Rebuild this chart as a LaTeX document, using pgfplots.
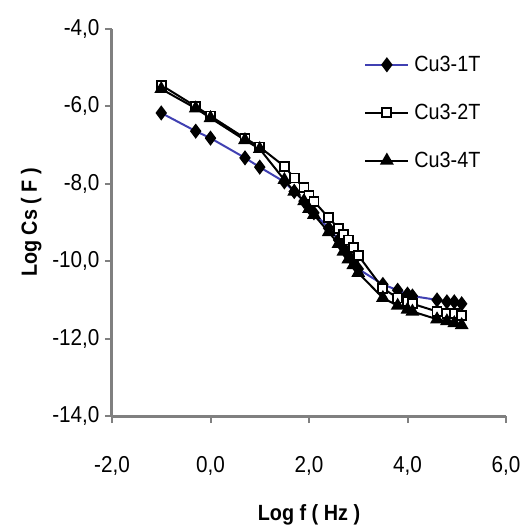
\documentclass[border=0pt]{standalone}
\usepackage{pgfplots}
\pgfplotsset{compat=1.18}
\usepackage{fontspec}
\setmainfont{Liberation Sans}[FakeStretch=0.9]
\definecolor{bl}{rgb}{0.25,0.25,0.7}
\definecolor{lbl}{rgb}{0.5,0.5,0.8}
\definecolor{ax}{rgb}{0.5,0.5,0.5}
\begin{document}
\begin{tikzpicture}
\begin{axis}[
  scale only axis, width=394pt, height=387pt,
  xmin=-2, xmax=6, ymin=-14, ymax=-4,
  xtick={-2,0,2,4,6}, ytick={-14,-12,-10,-8,-6,-4},
  axis x line=bottom, axis y line=left,
  axis line style={ax, line width=3pt, -},
  major tick style={ax, line width=2pt},
  tick align=outside, major tick length=7pt,
  every tick label/.style={font=\fontsize{23}{27}\selectfont},
  xticklabel style={yshift=-30pt},
  yticklabel style={xshift=-2pt},
  /pgf/number format/.cd, fixed, fixed zerofill, precision=1, use comma, assume math mode=true,
  /pgfplots/.cd,
  xlabel={\bfseries Log f ( Hz )}, ylabel={\bfseries Log Cs ( F )},
  label style={font=\fontsize{22}{26}\selectfont},
  xlabel style={yshift=-22pt},
  ylabel style={yshift=4pt},
  clip=false,
  legend style={draw=none, fill=none, at={(0.64,0.935)}, anchor=north west,
    font=\fontsize{22}{26}\selectfont, row sep=27pt, inner sep=0pt,
    nodes={inner xsep=5pt}},
  legend cell align=left,
  legend image code/.code={\draw[mark repeat=2,mark phase=2,#1] plot coordinates {(0pt,0pt) (21.5pt,0pt) (43pt,0pt)};},
]
\draw[ax, line width=3pt] (rel axis cs:0,0) -- (rel axis cs:1,0);
\draw[ax, line width=3pt] (rel axis cs:0,0) -- (rel axis cs:0,1);
\addplot[bl, line width=2pt, mark=diamond*, mark size=6pt, mark options={black, fill=black, solid}] coordinates {
(-1,-6.17) (-0.3,-6.64) (0,-6.82) (0.7,-7.33) (1,-7.57) (1.5,-7.95) (1.7,-8.2) (1.9,-8.45) (2.0,-8.6) (2.1,-8.75)
(2.4,-9.15) (2.6,-9.45) (2.7,-9.65) (2.8,-9.85) (2.9,-10.0) (3.0,-10.2) (3.5,-10.6) (3.8,-10.75) (4.0,-10.85) (4.1,-10.9)
(4.6,-11.0) (4.8,-11.05) (4.95,-11.05) (5.1,-11.1)};
\addlegendentry{Cu3-1T}
\addplot[black, line width=2pt, mark=square*, mark size=4.5pt, mark options={black, fill=white, solid, line width=1.8pt}] coordinates {
(-1,-5.45) (-0.3,-6.0) (0,-6.25) (0.7,-6.82) (1,-7.05) (1.5,-7.55) (1.7,-7.85) (1.9,-8.1) (2.0,-8.3) (2.1,-8.45)
(2.4,-8.88) (2.6,-9.15) (2.7,-9.3) (2.8,-9.45) (2.9,-9.65) (3.0,-9.85) (3.5,-10.7) (3.8,-10.95) (4.0,-11.05) (4.1,-11.1)
(4.6,-11.3) (4.8,-11.35) (4.95,-11.35) (5.1,-11.4)};
\addlegendentry{Cu3-2T}
\addplot[black, line width=2pt, mark=triangle*, mark size=6pt, mark options={black, fill=black, solid}] coordinates {
(-1,-5.55) (-0.3,-6.05) (0,-6.3) (0.7,-6.87) (1,-7.1) (1.5,-7.9) (1.7,-8.2) (1.9,-8.45) (2.0,-8.65) (2.1,-8.8)
(2.4,-9.25) (2.6,-9.55) (2.7,-9.75) (2.8,-9.95) (2.9,-10.1) (3.0,-10.3) (3.5,-10.95) (3.8,-11.15) (4.0,-11.25) (4.1,-11.3)
(4.6,-11.5) (4.8,-11.55) (4.95,-11.6) (5.1,-11.65)};
\addlegendentry{Cu3-4T}
\end{axis}
\path ([xshift=-112pt,yshift=-114pt]current axis.south west) rectangle ([xshift=25pt,yshift=29pt]current axis.north east);
\end{tikzpicture}
\end{document}
